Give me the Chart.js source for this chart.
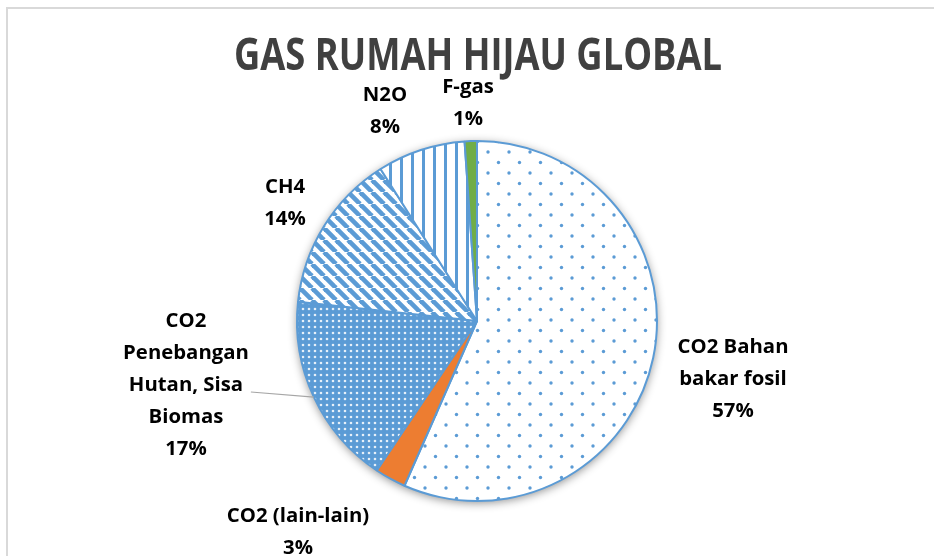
<!DOCTYPE html>
<html>
<head>
<meta charset="utf-8">
<script src="https://cdn.jsdelivr.net/npm/chart.js@4.4.1/dist/chart.umd.min.js"></script>
<style>
  html, body { margin: 0; padding: 0; background: #ffffff; }
  #wrap { position: relative; width: 934px; height: 556px; }
  canvas { display: block; }
</style>
</head>
<body>
<div id="wrap"><canvas id="c" width="934" height="556"></canvas></div>
<script>
// ---- data ----
const chartTitle = 'GAS RUMAH HIJAU GLOBAL';
const categories = ['CO2 Bahan bakar fosil', 'CO2 (lain-lain)', 'CO2 Penebangan Hutan, Sisa Biomas', 'CH4', 'N2O', 'F-gas'];
const labelLines = [['CO2 Bahan', 'bakar fosil'], ['CO2 (lain-lain)'], ['CO2', 'Penebangan', 'Hutan, Sisa', 'Biomas'], ['CH4'], ['N2O'], ['F-gas']];
const values = [56.6, 2.8, 17.3, 14.3, 7.9, 1.1];

// ---- style ----
const BLUE = '#5b9bd5';
const labelOffsets = [[256, 58], [-179, 211], [-291, 64], [-192, -118], [-92, -210], [-9, -218]];
const leaderIndex = 2;

function makePattern(w, h, draw) {
  const c = document.createElement('canvas');
  c.width = w; c.height = h;
  const g = c.getContext('2d');
  draw(g, w, h);
  return document.getElementById('c').getContext('2d').createPattern(c, 'repeat');
}
const patSparseDots = makePattern(21, 21, (g, w, h) => {
  g.fillStyle = '#fff'; g.fillRect(0, 0, w, h);
  g.fillStyle = BLUE;
  g.beginPath(); g.arc(5, 5, 1.7, 0, Math.PI * 2); g.fill();
  g.beginPath(); g.arc(15.5, 15.5, 1.7, 0, Math.PI * 2); g.fill();
});
const patDenseDots = makePattern(6, 6, (g, w, h) => {
  g.fillStyle = BLUE; g.fillRect(0, 0, w, h);
  g.fillStyle = 'rgba(255,255,255,0.85)';
  g.beginPath(); g.arc(3, 3, 1.3, 0, Math.PI * 2); g.fill();
});
const patDiag = makePattern(12, 12, (g, w, h) => {
  g.fillStyle = '#fff'; g.fillRect(0, 0, w, h);
  g.strokeStyle = BLUE; g.lineWidth = 4.6;
  for (const o of [-12, 0, 12]) {
    g.beginPath(); g.moveTo(o, 0); g.lineTo(o + 12, 12); g.stroke();
  }
});
const patVert = makePattern(11, 11, (g, w, h) => {
  g.fillStyle = '#fff'; g.fillRect(0, 0, w, h);
  g.fillStyle = BLUE; g.fillRect(4, 0, 3, h);
});
const sliceColors = [patSparseDots, '#ed7d31', patDenseDots, patDiag, patVert, '#70ad47'];

const total = values.reduce((a, b) => a + b, 0);

const decorPlugin = {
  id: 'decor',
  beforeDatasetsDraw(chart) {
    const ctx = chart.ctx;
    // frame lines
    ctx.save();
    ctx.fillStyle = '#d9d9d9';
    ctx.fillRect(6, 7, 934 - 6, 2);
    ctx.fillRect(6, 7, 2, 556 - 7);
    ctx.restore();
    // title
    ctx.save();
    ctx.font = 'bold 44px "Open Sans"';
    ctx.fillStyle = '#404040';
    ctx.textAlign = 'center';
    ctx.textBaseline = 'alphabetic';
    const tw = ctx.measureText(chartTitle).width;
    const sx = 488 / tw;
    ctx.translate(478, 70);
    ctx.scale(sx, 1);
    ctx.fillText(chartTitle, 0, 0);
    ctx.restore();
    // shadow under pie
    const arc = chart.getDatasetMeta(0).data[0];
    if (arc) {
      ctx.save();
      ctx.shadowColor = 'rgba(0,0,0,0.45)';
      ctx.shadowBlur = 10;
      ctx.shadowOffsetX = 0;
      ctx.shadowOffsetY = 2;
      ctx.fillStyle = '#fff';
      ctx.beginPath();
      ctx.arc(arc.x, arc.y, arc.outerRadius, 0, Math.PI * 2);
      ctx.fill();
      ctx.restore();
    }
  },
  afterDatasetsDraw(chart) {
    const ctx = chart.ctx;
    const meta = chart.getDatasetMeta(0);
    const a0 = meta.data[0];
    const cx = a0.x, cy = a0.y, r = a0.outerRadius;
    const s = r / 180;
    ctx.save();
    ctx.font = 'bold 20px "Open Sans"';
    const ref = ctx.measureText('CO2 Bahan').width;
    const sx = 111 / ref;
    ctx.fillStyle = '#000';
    ctx.textAlign = 'center';
    ctx.textBaseline = 'middle';
    const lh = 32;
    meta.data.forEach((arc, i) => {
      const lines = labelLines[i].concat([Math.round(values[i] / total * 100) + '%']);
      const bx = cx + labelOffsets[i][0] * s;
      const by = cy + labelOffsets[i][1] * s;
      let maxW = 0;
      lines.forEach((ln, j) => {
        const y = by + (j - (lines.length - 1) / 2) * lh;
        ctx.save();
        ctx.translate(bx, y);
        ctx.scale(sx, 1);
        ctx.fillText(ln, 0, 0);
        ctx.restore();
        maxW = Math.max(maxW, ctx.measureText(ln).width * sx);
      });
      if (i === leaderIndex) {
        const mid = (arc.startAngle + arc.endAngle) / 2;
        ctx.save();
        ctx.strokeStyle = '#a6a6a6';
        ctx.lineWidth = 1.2;
        ctx.beginPath();
        ctx.moveTo(bx + maxW / 2 + 2, by + 7);
        ctx.lineTo(cx + Math.cos(mid) * r, cy + Math.sin(mid) * r);
        ctx.stroke();
        ctx.restore();
      }
    });
    ctx.restore();
  }
};

new Chart(document.getElementById('c'), {
  type: 'pie',
  data: {
    labels: categories,
    datasets: [{
      data: values,
      backgroundColor: sliceColors,
      borderColor: BLUE,
      borderWidth: 2
    }]
  },
  options: {
    responsive: false,
    animation: false,
    layout: { padding: { top: 140, bottom: 54, left: 296, right: 276 } },
    plugins: {
      legend: { display: false },
      title: { display: false },
      tooltip: { enabled: false }
    }
  },
  plugins: [decorPlugin]
});
</script>
</body>
</html>
